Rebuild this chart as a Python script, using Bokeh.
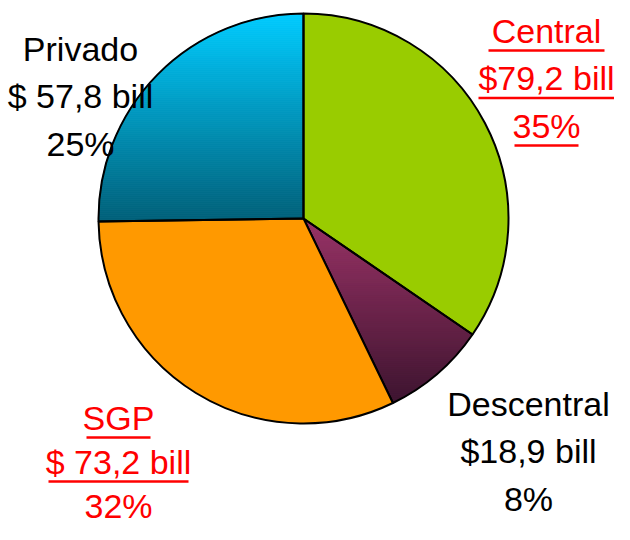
import numpy as np
from bokeh.plotting import figure
from bokeh.models import Range1d
from bokeh.core.properties import value
from bokeh.embed import file_html
from bokeh.resources import INLINE

# ---- data ----
categories = ["Central", "Descentral", "SGP", "Privado"]
amounts = [79.2, 18.9, 73.2, 57.8]          # billions
amount_labels = ["$79,2 bill", "$18,9 bill", "$ 73,2 bill", "$ 57,8 bill"]
pct_labels = ["35%", "8%", "32%", "25%"]

# ---- style / layout ----
top_colors = ["#99CC00", "#993366", "#FF9900", "#00CCFF"]
bottom_colors = ["#99CC00", "#3E1530", "#FF9900", "#005F78"]
label_colors = ["#FF0000", "#000000", "#FF0000", "#000000"]
underlined = [[True, True, True], [False] * 3, [True, True, False], [False] * 3]
# label block: center x, first baseline (canvas px), line step
label_pos = [(546, 42, 47.5), (528, 415, 47.5), (118, 429, 44), (80, 60, 47.5)]
# underline half widths for each line (px)
underline_half = {0: [58, 68, 32], 2: [32, 70, 31]}
FONT = "Liberation Sans"
FSIZE = "34px"
MID = 12   # distance from baseline to middle of the text

W, H = 614, 524


def Y(img_y):
    return H - img_y


cx, cy, R = 303, Y(218), 205

p = figure(width=W, height=H, output_backend="svg", toolbar_location=None,
           x_range=Range1d(0, W), y_range=Range1d(0, H), min_border=0)
p.axis.visible = False
p.grid.visible = False
p.outline_line_color = None
p.background_fill_color = "white"
p.border_fill_color = "white"

total = sum(amounts)
cum = np.concatenate([[0], np.cumsum(amounts)])
starts = [np.deg2rad(90 - 360 * cum[i] / total) for i in range(len(amounts))]
ends = [np.deg2rad(90 - 360 * cum[i + 1] / total) for i in range(len(amounts))]


def hex2rgb(h):
    h = h.lstrip("#")
    return np.array([int(h[i:i + 2], 16) for i in (0, 2, 4)], dtype=float)


def rgb2hex(c):
    c = np.clip(np.round(c), 0, 255).astype(int)
    return "#%02x%02x%02x" % tuple(c)


def clip_poly(xs, ys, ylim, keep_above):
    out_x, out_y = [], []
    n = len(xs)

    def inside(y):
        return y >= ylim if keep_above else y <= ylim
    for i in range(n):
        x1, y1 = xs[i - 1], ys[i - 1]
        x2, y2 = xs[i], ys[i]
        in1, in2 = inside(y1), inside(y2)
        if in2:
            if not in1:
                t = (ylim - y1) / (y2 - y1)
                out_x.append(x1 + t * (x2 - x1)); out_y.append(ylim)
            out_x.append(x2); out_y.append(y2)
        elif in1:
            t = (ylim - y1) / (y2 - y1)
            out_x.append(x1 + t * (x2 - x1)); out_y.append(ylim)
    return out_x, out_y


# gradient bands for slices whose top and bottom colours differ
band_xs, band_ys, band_cols = [], [], []
for i in range(len(amounts)):
    if top_colors[i] == bottom_colors[i]:
        continue
    a = np.linspace(starts[i], ends[i], 200)
    px = [cx] + list(cx + R * np.cos(a))
    py = [cy] + list(cy + R * np.sin(a))
    ytop, ybot = max(py), min(py)
    c0, c1 = hex2rgb(top_colors[i]), hex2rgb(bottom_colors[i])
    step = 2.0
    yb = ybot
    while yb < ytop:
        yt = min(yb + step, ytop)
        bx, by = clip_poly(px, py, yb, True)
        if len(bx) >= 3:
            bx, by = clip_poly(bx, by, yt, False)
        if len(bx) >= 3:
            t = (ytop - (yb + yt) / 2) / (ytop - ybot)
            band_xs.append(bx); band_ys.append(by)
            band_cols.append(rgb2hex(c0 + (c1 - c0) * t))
        yb = yt

p.patches(band_xs, band_ys, fill_color=band_cols, line_color=band_cols, line_width=0.8)

solid_fill = [top_colors[i] if top_colors[i] == bottom_colors[i] else None
              for i in range(len(amounts))]
for i in range(len(amounts)):
    p.wedge(x=cx, y=cy, radius=R, start_angle=starts[i], end_angle=ends[i],
            direction="clock", fill_color=solid_fill[i],
            fill_alpha=1.0 if solid_fill[i] else 0.0,
            line_color="black", line_width=2)

# labels
for i, cat in enumerate(categories):
    lx, ly, step = label_pos[i]
    lines = [cat, amount_labels[i], pct_labels[i]]
    for k, txt in enumerate(lines):
        by = ly + k * step
        p.text(x=[lx], y=[Y(by - MID)], text=[txt], text_align="center",
               text_baseline="middle", text_color=label_colors[i],
               text_font=value(FONT), text_font_size=FSIZE)
        if underlined[i][k]:
            hw = underline_half[i][k]
            p.segment(x0=[lx - hw], y0=[Y(by + 8)], x1=[lx + hw], y1=[Y(by + 8)],
                      line_color=label_colors[i], line_width=2.5)

open("out.html", "w").write(file_html(p, INLINE))
